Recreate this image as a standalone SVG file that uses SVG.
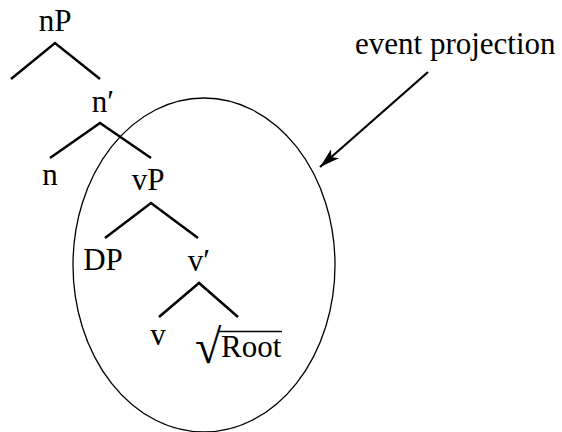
<svg xmlns="http://www.w3.org/2000/svg" width="562" height="432" viewBox="0 0 562 432">
<style>
text{font-family:'Liberation Serif','Times New Roman',serif;font-size:31px;fill:#000}
.e{stroke:#000;stroke-width:2.5;fill:none}
</style>
<defs>
<marker id="arr" viewBox="0 0 20 12" refX="20" refY="6" markerWidth="20" markerHeight="12" orient="auto" markerUnits="userSpaceOnUse"><path d="M0,0 L20,6 L0,12 L5,6 Z" fill="#000"/></marker></defs>
<rect width="562" height="432" fill="#fff"/>
<g id="ellipse"><ellipse cx="204" cy="265" rx="131" ry="167" fill="none" stroke="#000" stroke-width="1.3"/></g>
<g id="nP"><text x="55" y="31" text-anchor="middle">nP</text></g>
<g id="n-bar"><text x="103" y="112" text-anchor="middle">n′</text></g>
<g id="n"><text x="50" y="185" text-anchor="middle">n</text></g>
<g id="vP"><text x="148" y="190" text-anchor="middle">vP</text></g>
<g id="DP"><text x="103" y="270" text-anchor="middle">DP</text></g>
<g id="v-bar"><text x="199" y="271" text-anchor="middle">v′</text></g>
<g id="v"><text x="158" y="345" text-anchor="middle">v</text></g>
<g id="root"><text x="195" y="363" style="font-size:48px">√</text><text x="221" y="357">Root</text><line x1="219" y1="331.5" x2="282" y2="331.5" stroke="#000" stroke-width="1.3"/></g>
<g id="label"><text x="355" y="54">event projection</text></g>
<g id="connectors">
<path class="e" d="M11,79 L55,43 L100,79"/>
<path class="e" d="M50,158 L100,123 L151,158"/>
<path class="e" d="M105,238 L151,203 L198,238"/>
<path class="e" d="M159,317 L199,283 L238,317"/>
<line x1="428" y1="72" x2="320" y2="167" stroke="#000" stroke-width="2.2" marker-end="url(#arr)"/>
</g>
</svg>
